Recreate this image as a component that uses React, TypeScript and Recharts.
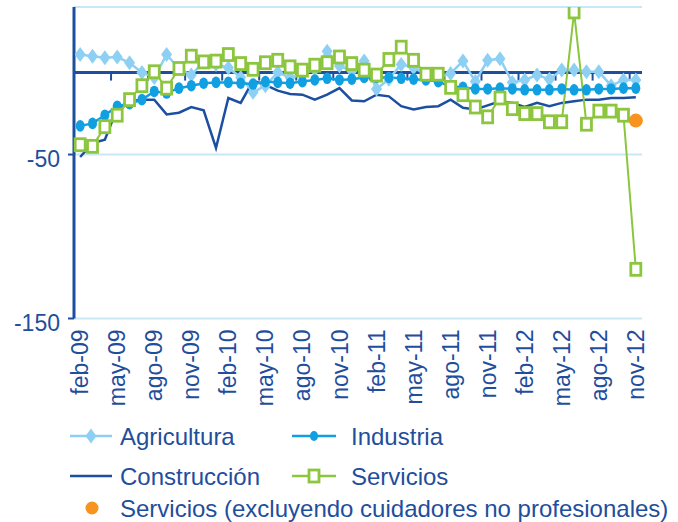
import { LineChart, Line, XAxis, YAxis, CartesianGrid, ReferenceLine, ReferenceDot } from "recharts"

// months from feb-09 to nov-12
const months = [
  "feb-09", "mar-09", "abr-09", "may-09", "jun-09", "jul-09", "ago-09", "sep-09", "oct-09", "nov-09", "dic-09",
  "ene-10", "feb-10", "mar-10", "abr-10", "may-10", "jun-10", "jul-10", "ago-10", "sep-10", "oct-10", "nov-10", "dic-10",
  "ene-11", "feb-11", "mar-11", "abr-11", "may-11", "jun-11", "jul-11", "ago-11", "sep-11", "oct-11", "nov-11", "dic-11",
  "ene-12", "feb-12", "mar-12", "abr-12", "may-12", "jun-12", "jul-12", "ago-12", "sep-12", "oct-12", "nov-12",
]

const agricultura = [
  11, 10, 9, 9.5, 6, 0, -3, 11, 2.5, -1.5, 6.5, 5, 3, -3, -12, -8, 0, -3, -1, 2, 13, 4, 1,
  7, -10, -4, 5, 3, -1, -3, -0.5, 7, -5.5, 7.5, 8.5, -6, -4.5, -1.5, -4, 1.5, 1.5, 0.5, 0.5, -8, -4.5, -4.5,
]
const industria = [
  -32.5, -31, -26, -20.5, -19, -16.5, -11.5, -12.5, -9.5, -8, -6.5, -6, -6, -6.5, -7,
  -5.5, -6, -6.5, -5.5, -4.5, -3.5, -4.5, -4, -3, -3, -3, -3.5, -4, -4.5, -5.5,
  -8.5, -9, -10, -10, -9.5, -10, -10.5, -10.5, -10.5, -10, -10.5, -10.5, -10, -10, -9.5, -9.5,
]
const construccion = [
  -51.5, -43, -41, -22, -17.5, -16.5, -16.5, -25.5, -24.5, -21, -23, -46, -15.5, -18.5,
  -5, -7.5, -11, -13, -13.5, -16.5, -13.5, -9.5, -17, -17.5, -13.5, -14.5, -20.5, -22.5, -21, -20.5, -16.5,
  -21.5, -22.5, -20, -17.5, -18.5, -21, -18.5, -20.5, -18.5, -17.5, -16.5, -16.5, -15.5, -15.5, -15,
]
const servicios = [
  -44, -45, -33, -26, -16.5, -8, 0.5, -9.5, 2.5, 10, 6.5, 7, 11, 5.5,
  2, 6, 7.5, 3.5, 1.5, 4.5, 6, 9.5, 5.5, 1.5, -1.5, 8, 15.5, 7.5, -1, -1,
  -9, -13.5, -21, -27, -15.5, -22, -25, -25, -30, -30, 37, -31.5, -23.5, -23.5, -26, -120,
]
// Servicios (excluyendo cuidadores no profesionales): single point
const servExcl = [{ month: "nov-12", value: -29.3 }]

const yTicks = [-150, -50]

const AGRI = "#8dd0f3"
const IND = "#109fe1"
const CON = "#1c4fa0"
const SERV = "#8cc63f"
const ORANGE = "#f7931e"
const TEXT = "#1f4e9c"
const AXIS = "#1d4f9f"
const GRID = "#c9e8f6"
const FONT = "'Liberation Sans', Arial, sans-serif"

const data = months.map((m, i) => ({
  month: m,
  agricultura: agricultura[i],
  industria: industria[i],
  construccion: construccion[i],
  servicios: servicios[i],
}))

const Diamond = (p: any) => {
  const { cx, cy, index } = p
  if (cx == null || cy == null) return null
  return <path key={`a-${index}`} d={`M${cx},${cy - 7.5} L${cx + 5.5},${cy} L${cx},${cy + 7.5} L${cx - 5.5},${cy} Z`} fill={AGRI} />
}

const Ellipse = (p: any) => {
  const { cx, cy, index } = p
  if (cx == null || cy == null) return null
  return <ellipse key={`i-${index}`} cx={cx} cy={cy} rx={4.5} ry={5.8} fill={IND} />
}

const Square = (p: any) => {
  const { cx, cy, index } = p
  if (cx == null || cy == null) return null
  return <rect key={`s-${index}`} x={cx - 5} y={cy - 6} width={10} height={12} fill="#fff" stroke={SERV} strokeWidth={2.8} />
}

const XTick = ({ x, y, payload }: any) => (
  <text
    x={x}
    y={y}
    transform={`rotate(-90 ${x} ${y})`}
    textAnchor="end"
    dy="0.35em"
    fill={TEXT}
    fontSize={23}
    fontFamily={FONT}
  >
    {payload.value}
  </text>
)

const YTick = ({ x, y, payload }: any) => (
  <text x={x} y={y} dy={4} textAnchor="end" dominantBaseline="central" fill={TEXT} fontSize={23} fontFamily={FONT}>
    {payload.value}
  </text>
)

// zero line with small tick marks every 3 months (between categories)
const ZeroLine = (p: any) => {
  const { x1, y1, x2, y2 } = p
  const bw = (x2 - x1) / months.length
  const marks = []
  for (let k = 3; k < months.length; k += 3) {
    const x = x1 + k * bw
    marks.push(<line key={k} x1={x} y1={y1} x2={x} y2={y1 + 8} stroke={AXIS} strokeWidth={2} />)
  }
  return (
    <g>
      <line x1={x1} y1={y1} x2={x2} y2={y2} stroke={AXIS} strokeWidth={3} />
      {marks}
    </g>
  )
}

function Legend() {
  const t = { fill: TEXT, fontSize: 24, fontFamily: FONT, dominantBaseline: "central" as const }
  return (
    <svg width={678} height={522} style={{ position: "absolute", left: 0, top: 0, pointerEvents: "none" }}>
      <line x1={70} y1={436} x2={112} y2={436} stroke={AGRI} strokeWidth={2.5} />
      <path d="M91,428.5 L96.5,436 L91,443.5 L85.5,436 Z" fill={AGRI} />
      <text x={120} y={436} {...t}>Agricultura</text>

      <line x1={292} y1={436} x2={336} y2={436} stroke={IND} strokeWidth={2.5} />
      <ellipse cx={314} cy={436} rx={4} ry={5} fill={IND} />
      <text x={351} y={436} {...t}>Industria</text>

      <line x1={70} y1={476} x2={112} y2={476} stroke={CON} strokeWidth={2.5} />
      <text x={120} y={476} {...t}>Construcción</text>

      <line x1={292} y1={476} x2={336} y2={476} stroke={SERV} strokeWidth={2.5} />
      <rect x={309} y={470} width={10} height={12} fill="#fff" stroke={SERV} strokeWidth={2.8} />
      <text x={351} y={476} {...t}>Servicios</text>

      <circle cx={92} cy={508} r={6.5} fill={ORANGE} />
      <text x={120} y={508} {...t}>Servicios (excluyendo cuidadores no profesionales)</text>
    </svg>
  )
}

export default function App() {
  return (
    <div style={{ position: "relative", width: 678, height: 522, overflow: "hidden", background: "#fff" }}>
      <style>{`body{margin:0}`}</style>
      <LineChart width={678} height={522} data={data} margin={{ top: 7, right: 36, bottom: 0, left: 0 }}>
        <CartesianGrid horizontal vertical={false} stroke={GRID} strokeWidth={2} />
        <XAxis
          dataKey="month"
          interval={2}
          padding={{ left: 6.17, right: 6.17 }}
          height={203.5}
          axisLine={false}
          tickLine={false}
          tickSize={0}
          tickMargin={11}
          tick={<XTick />}
        />
        <YAxis
          type="number"
          domain={[-150, 40]}
          ticks={yTicks}
          width={74}
          axisLine={{ stroke: AXIS, strokeWidth: 3 }}
          tickLine={{ stroke: AXIS, strokeWidth: 2 }}
          tickSize={6}
          tickMargin={8}
          tick={<YTick />}
          allowDataOverflow
        />
        <ReferenceLine y={0} shape={ZeroLine} />
        <Line dataKey="construccion" stroke={CON} strokeWidth={2.5} dot={false} isAnimationActive={false} />
        <Line dataKey="agricultura" stroke={AGRI} strokeWidth={2.5} dot={Diamond} isAnimationActive={false} />
        <Line dataKey="industria" stroke={IND} strokeWidth={2.5} dot={Ellipse} isAnimationActive={false} />
        <Line dataKey="servicios" stroke={SERV} strokeWidth={2} dot={Square} isAnimationActive={false} />
        {servExcl.map((d) => (
          <ReferenceDot key={d.month} x={d.month} y={d.value} r={7} fill={ORANGE} stroke="none" />
        ))}
      </LineChart>
      <Legend />
    </div>
  )
}
